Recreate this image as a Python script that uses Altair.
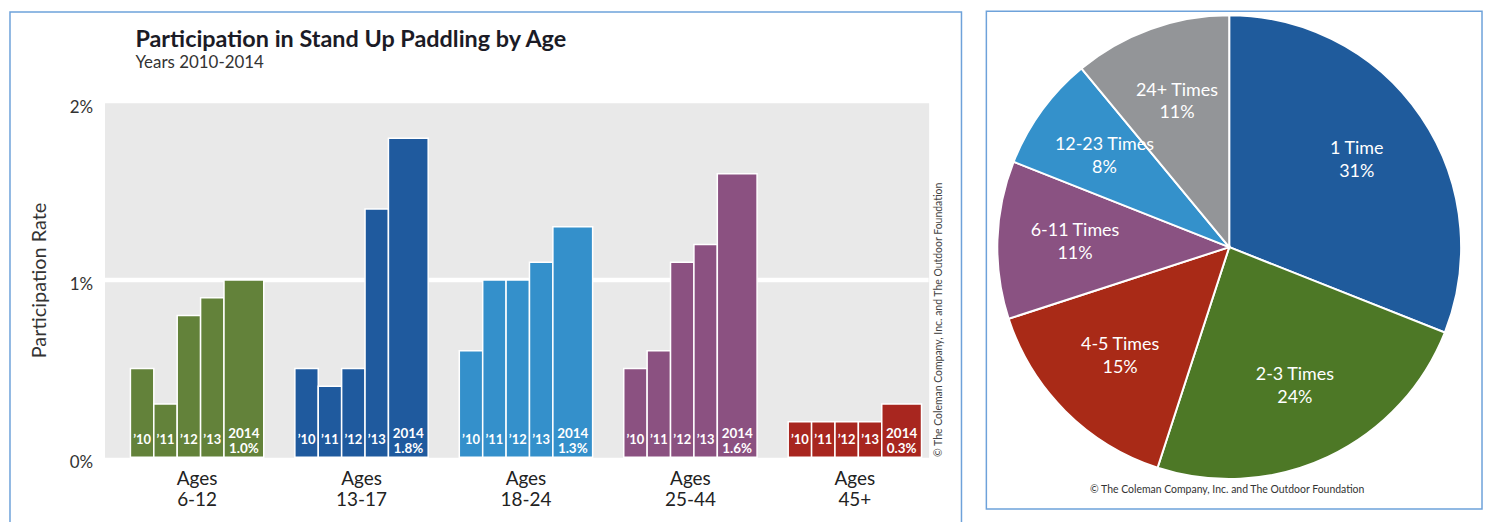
import altair as alt
import pandas as pd

# ---------------- data ----------------
age_groups = ["6-12", "13-17", "18-24", "25-44", "45+"]
year_labels = ["\u201910", "\u201911", "\u201912", "\u201913", "2014"]
rate_6_12 = [0.5, 0.3, 0.8, 0.9, 1.0]
rate_13_17 = [0.5, 0.4, 0.5, 1.4, 1.8]
rate_18_24 = [0.6, 1.0, 1.0, 1.1, 1.3]
rate_25_44 = [0.5, 0.6, 1.1, 1.2, 1.6]
rate_45_plus = [0.2, 0.2, 0.2, 0.2, 0.3]
y_ticks = [0, 1, 2]

freq_labels = ["1 Time", "2-3 Times", "4-5 Times", "6-11 Times", "12-23 Times", "24+ Times"]
freq_share = [31, 24, 15, 11, 8, 11]

title_text = "Participation in Stand Up Paddling by Age"
subtitle_text = "Years 2010-2014"
y_title = "Participation Rate"
credit = "\u00a9 The Coleman Company, Inc. and The Outdoor Foundation"

# ---------------- style ----------------
FONT = "Lato"
age_colors = ["#63823a", "#1f5a9e", "#3490cb", "#8b5181", "#a8261f"]
pie_colors = ["#1f5b9c", "#4d7826", "#a92a17", "#8a5282", "#3491cb", "#939598"]
frame_color = "#6ea2da"

# layout in bar-slot units (one narrow bar = 1 unit)
X_DOMAIN = [0, 35.23]
GROUP_START = 1.106
GROUP_PITCH = 7.03
LATEST_WIDTH = 1.7

all_rates = [rate_6_12, rate_13_17, rate_18_24, rate_25_44, rate_45_plus]
rows = []
for g, (age, vals) in enumerate(zip(age_groups, all_rates)):
    for i, (yl, v) in enumerate(zip(year_labels, vals)):
        x0 = GROUP_START + g * GROUP_PITCH + i
        x1 = x0 + (LATEST_WIDTH if i == len(vals) - 1 else 1.0)
        rows.append(dict(age=age, year=yl, rate=v, x0=x0, x1=x1,
                         xc=(x0 + x1) / 2, latest=(i == len(vals) - 1),
                         value_label=f"{v:.1f}%"))
bars_df = pd.DataFrame(rows)

group_df = pd.DataFrame({
    "age": age_groups,
    "xc": [GROUP_START + g * GROUP_PITCH + (4 + LATEST_WIDTH) / 2 for g in range(len(age_groups))],
    "label": [f"Ages\n{a}" for a in age_groups],
})

xscale = alt.Scale(domain=X_DOMAIN, nice=False, zero=False)
yscale = alt.Scale(domain=[0, 2], nice=False)

base = alt.Chart(bars_df)

grid = alt.Chart(pd.DataFrame({"v": [1]})).mark_rule(color="white", strokeWidth=4.5).encode(
    y=alt.Y("v:Q", scale=yscale)
)

bars = base.mark_bar(stroke="white", strokeWidth=1.5).encode(
    x=alt.X("x0:Q", scale=xscale, axis=None),
    x2="x1:Q",
    y=alt.Y("rate:Q", scale=yscale, axis=alt.Axis(
        values=y_ticks, labelExpr="datum.value + '%'", grid=False, ticks=False,
        tickSize=0, domain=False, labelFontSize=17, labelColor="#333333",
        labelPadding=12, labelOffset=5, labelFont=FONT,
        title=y_title, titleFontSize=20, titleFontWeight="normal",
        titleColor="#333333", titlePadding=20, titleFont=FONT)),
    y2=alt.datum(0),
    color=alt.Color("age:N", scale=alt.Scale(domain=age_groups, range=age_colors), legend=None),
)

small_labels = base.transform_filter("!datum.latest").mark_text(
    color="white", fontWeight="bold", fontSize=13, dy=-17, font=FONT
).encode(x=alt.X("xc:Q", scale=xscale), y=alt.datum(0), text="year:N")

latest_year = base.transform_filter("datum.latest").mark_text(
    color="white", fontWeight="bold", fontSize=13.5, dy=-23, font=FONT
).encode(x=alt.X("xc:Q", scale=xscale), y=alt.datum(0), text="year:N")

latest_val = base.transform_filter("datum.latest").mark_text(
    color="white", fontWeight="bold", fontSize=13.5, dy=-8, font=FONT
).encode(x=alt.X("xc:Q", scale=xscale), y=alt.datum(0), text="value_label:N")

age_labels = alt.Chart(group_df).mark_text(
    lineBreak="\n", baseline="top", fontSize=19, lineHeight=21, dy=13,
    color="#222222", font=FONT
).encode(x=alt.X("xc:Q", scale=xscale), y=alt.datum(0), text="label:N")

one = pd.DataFrame({"t": [0]})
title_mark = alt.Chart(one).mark_text(
    text=title_text, align="left", baseline="alphabetic", fontSize=23.5,
    fontWeight="bold", color="#1b1b26", font=FONT
).encode(x=alt.value(31), y=alt.value(-56))
subtitle_mark = alt.Chart(one).mark_text(
    text=subtitle_text, align="left", baseline="alphabetic", fontSize=17,
    color="#333333", font=FONT
).encode(x=alt.value(31), y=alt.value(-35))
credit_v = alt.Chart(one).mark_text(
    text=credit, angle=270, align="center", baseline="middle", fontSize=10.5,
    color="#444444", font=FONT
).encode(x=alt.value(838), y=alt.value(218))
frame_left = alt.Chart(one).mark_rect(
    fillOpacity=0, stroke=frame_color, strokeWidth=1.5
).encode(x=alt.value(-95), x2=alt.value(861), y=alt.value(-91.25), y2=alt.value(440))

left = alt.layer(
    grid, bars, small_labels, latest_year, latest_val, age_labels,
    title_mark, subtitle_mark, credit_v, frame_left
).properties(
    width=828, height=356,
    view=alt.ViewBackground(fill="#e9e9e9", stroke="transparent"),
)

# ---------------- pie ----------------
# pie panel shares its origin row with the bar panel (origin at the bar plot's top)
PIE_CX, PIE_CY, PIE_R = 233, 145, 233
pie_df = pd.DataFrame({
    "label": freq_labels,
    "share": freq_share,
    "idx": list(range(len(freq_labels))),
    "text": [f"{l}\n{s}%" for l, s in zip(freq_labels, freq_share)],
})
pie_base = alt.Chart(pie_df).encode(
    theta=alt.Theta("share:Q", stack=True),
    order=alt.Order("idx:Q"),
    x=alt.value(PIE_CX),
    y=alt.value(PIE_CY),
)
arcs = pie_base.mark_arc(outerRadius=PIE_R, stroke="white", strokeWidth=2).encode(
    color=alt.Color("label:N", scale=alt.Scale(domain=freq_labels, range=pie_colors), legend=None)
)
pie_labels = pie_base.mark_text(
    radius=155, fontSize=18, color="white", lineBreak="\n", lineHeight=23,
    align="center", baseline="middle", dy=-11.5, font=FONT
).encode(text="text:N", detail="label:N")

credit_h = alt.Chart(one).mark_text(
    text=credit, align="center", baseline="alphabetic", fontSize=10.5,
    color="#333333", font=FONT
).encode(x=alt.value(231), y=alt.value(392))
frame_right = alt.Chart(one).mark_rect(
    fillOpacity=0, stroke=frame_color, strokeWidth=1.5
).encode(x=alt.value(-11), x2=alt.value(487), y=alt.value(-92), y2=alt.value(408))

right = alt.layer(arcs, pie_labels, credit_h, frame_right).properties(
    width=466, height=356, view=alt.ViewBackground(stroke="transparent")
)

chart = alt.hconcat(left, right, spacing=21).resolve_scale(
    color="independent"
).properties(padding=0, background="white")
chart.save("out.html", embed_options={"renderer": "svg", "actions": False})
